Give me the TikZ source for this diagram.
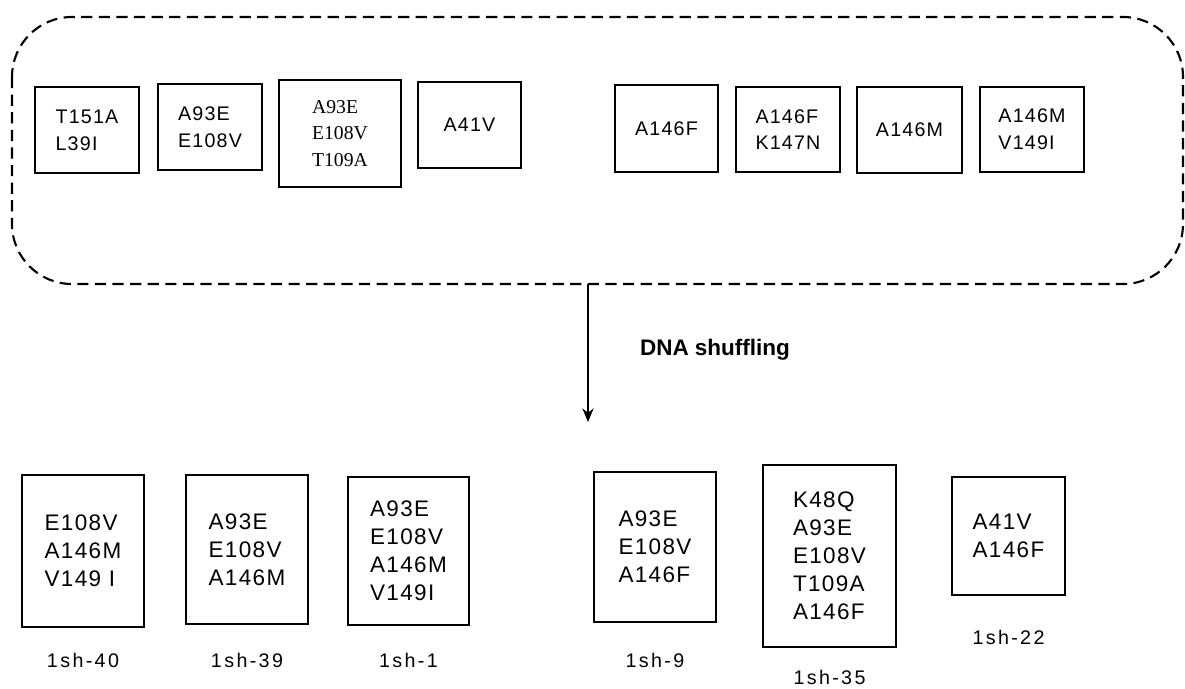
\documentclass[tikz,border=0pt]{standalone}
\usepackage{fontspec}
\setmainfont{Liberation Sans}[LetterSpace=6]
\newfontfamily\timesfont{Liberation Serif}
\newfontfamily\headfont{Liberation Sans}
\usetikzlibrary{arrows.meta}

\begin{document}
\begin{tikzpicture}[
  x=0.025cm, y=-0.025cm,
  pool/.style   = {draw=black, dash pattern=on 0.28cm off 0.16cm,
                   rounded corners=1.5cm, line width=1.5pt},
  mutbox/.style = {draw=black, line width=1.6pt, align=left, inner sep=0pt,
                   font=\fontsize{14}{19}\selectfont},
  hitbox/.style = {draw=black, line width=1.6pt, align=left, inner sep=0pt,
                   font=\fontsize{16}{20}\selectfont},
  clone/.style  = {inner sep=0pt, font=\fontsize{14}{16}\selectfont\addfontfeatures{LetterSpace=12}},
]
\useasboundingbox (0,0) rectangle (1185,689);

% parent mutants
\draw[pool] (12,17) rectangle (1183,284);
\foreach \idx/\cx/\cy/\w/\h/\txt in {
    1/87/130/104/86/{T151A\\L39I},
    2/210/127/104/86/{A93E\\E108V},
    4/469.5/125/103/86/{A41V},
    5/666.5/128.5/103/87/{A146F},
    6/788/129.5/104/85/{A146F\\K147N},
    7/909.5/130/105/86/{A146M},
    8/1032/129.5/104/85/{A146M\\V149I}}{
  \node[mutbox, minimum width=\w*0.025cm, minimum height=\h*0.025cm]
    (p\idx) at (\cx,\cy) {\txt};
}
\node[mutbox, font=\fontsize{14}{19}\timesfont, minimum width=122*0.025cm,
      minimum height=107*0.025cm] (p3) at (340,133.5) {A93E\\E108V\\T109A};

\coordinate (poolout) at (588,284);
\coordinate (shufend) at (588,422);
\draw[-{Stealth[length=0.34cm, width=0.28cm]}, line width=1.3pt] (poolout) -- (shufend);
\node[font=\fontsize{16}{18}\headfont\bfseries] (shuf) at (715,350) {DNA shuffling};

% shuffled clones
\foreach \idx/\cx/\cy/\w/\h/\txt/\ly in {
    40/83/551/122/152/{E108V\\A146M\\V149 I}/660,
    39/247/549.5/122/149/{A93E\\E108V\\A146M}/660,
    1/408.5/551/121/148/{A93E\\E108V\\A146M\\V149I}/660,
    9/655/547/122/150/{A93E\\E108V\\A146F}/660,
    35/829.5/556/133/182/{K48Q\\A93E\\E108V\\T109A\\A146F}/677,
    22/1008.5/536/113/118/{A41V\\A146F}/637}{
  \node[hitbox, minimum width=\w*0.025cm, minimum height=\h*0.025cm]
    (c\idx) at (\cx,\cy) {\txt};
  \node[clone] (l\idx) at (\cx,\ly) {1sh-\idx};
}

\end{tikzpicture}
\end{document}
